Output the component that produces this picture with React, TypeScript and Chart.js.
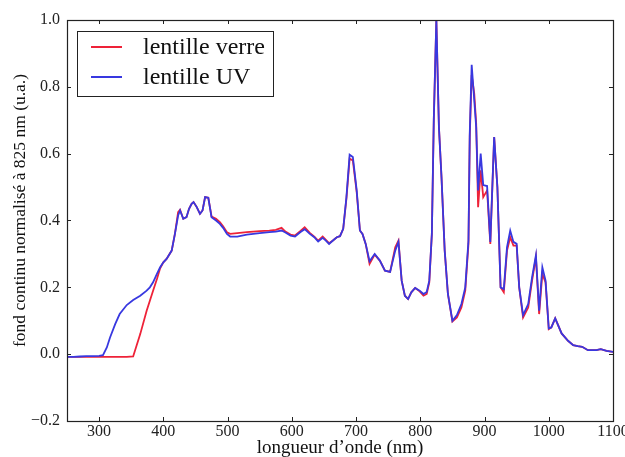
import React, { useEffect, useRef } from "react";
import { Chart, registerables } from "chart.js";

Chart.register(...registerables);

const wavelengths = [
  250, 260, 270, 280, 290, 300, 306, 312, 317, 325, 332, 343, 353, 364, 374, 379, 384, 390, 395, 400,
  405, 413, 418, 423, 426, 431, 436, 440, 444, 447, 452, 457, 461, 465, 470, 475, 482, 488, 493, 499,
  504, 515, 530, 550, 565, 575, 584, 590, 598, 605, 613, 620, 628, 635, 641, 648, 653, 658, 664, 670,
  675, 680, 685, 690, 695, 701, 706, 710, 715, 721, 729, 737, 745, 753, 761, 766, 771, 776, 781, 786,
  792, 799, 805, 810, 814, 818, 821, 825, 829, 833, 838, 843, 850, 857, 864, 870, 875, 877, 880, 884,
  887, 890, 894, 898, 904, 909, 915, 920, 925, 930, 935, 940, 945, 950, 954, 960, 968, 974, 980, 985,
  990, 995, 1000, 1004, 1010, 1020, 1030, 1038, 1045, 1052, 1061, 1068, 1074, 1081, 1090, 1100,
];

const lentilleUV = [
  -0.008, -0.008, -0.007, -0.006, -0.006, -0.005, -0.003, 0.02, 0.05, 0.09, 0.12, 0.147, 0.162, 0.175, 0.19, 0.2, 0.215, 0.24, 0.26, 0.275,
  0.285, 0.31, 0.36, 0.415, 0.43, 0.405, 0.41, 0.435, 0.45, 0.455, 0.44, 0.42, 0.43, 0.47, 0.468, 0.41, 0.4, 0.39, 0.378, 0.36,
  0.352, 0.352, 0.358, 0.362, 0.365, 0.367, 0.37, 0.364, 0.355, 0.352, 0.365, 0.374, 0.36, 0.35, 0.337, 0.348, 0.34, 0.33, 0.34, 0.35,
  0.353, 0.375, 0.47, 0.597, 0.59, 0.49, 0.37, 0.36, 0.33, 0.278, 0.3, 0.28, 0.25, 0.246, 0.31, 0.336, 0.22, 0.175, 0.165, 0.185,
  0.198, 0.19, 0.18, 0.186, 0.22, 0.36, 0.7, 1.0, 0.68, 0.53, 0.31, 0.18, 0.1, 0.117, 0.15, 0.2, 0.34, 0.66, 0.866, 0.76,
  0.68, 0.49, 0.6, 0.506, 0.503, 0.336, 0.65, 0.5, 0.2, 0.195, 0.32, 0.37, 0.336, 0.33, 0.2, 0.117, 0.15, 0.23, 0.296, 0.13,
  0.26, 0.22, 0.077, 0.08, 0.107, 0.062, 0.04, 0.027, 0.024, 0.022, 0.012, 0.012, 0.012, 0.015, 0.01, 0.007,
];

const lentilleVerre = [
  -0.008, -0.008, -0.008, -0.008, -0.008, -0.008, -0.008, -0.008, -0.008, -0.008, -0.008, -0.008, -0.007, 0.06, 0.13, 0.16, 0.19, 0.225, 0.257, 0.275,
  0.285, 0.31, 0.36, 0.425, 0.432, 0.405, 0.41, 0.435, 0.45, 0.455, 0.44, 0.42, 0.43, 0.47, 0.468, 0.412, 0.405, 0.395, 0.383, 0.365,
  0.36, 0.362, 0.365, 0.368, 0.37, 0.372, 0.378, 0.367, 0.358, 0.355, 0.368, 0.38, 0.363, 0.352, 0.34, 0.352, 0.342, 0.332, 0.34, 0.35,
  0.353, 0.375, 0.465, 0.585, 0.58, 0.485, 0.37, 0.36, 0.33, 0.27, 0.298, 0.28, 0.25, 0.246, 0.32, 0.34, 0.22, 0.175, 0.165, 0.185,
  0.198, 0.188, 0.175, 0.18, 0.215, 0.36, 0.7, 1.0, 0.68, 0.53, 0.31, 0.18, 0.098, 0.11, 0.14, 0.19, 0.33, 0.65, 0.835, 0.78,
  0.69, 0.44, 0.55, 0.47, 0.49, 0.33, 0.65, 0.5, 0.2, 0.185, 0.31, 0.35, 0.325, 0.325, 0.2, 0.11, 0.14, 0.22, 0.29, 0.12,
  0.24, 0.215, 0.075, 0.08, 0.107, 0.062, 0.04, 0.027, 0.024, 0.022, 0.012, 0.012, 0.012, 0.015, 0.01, 0.007,
];

const seriesLabels = ["lentille verre", "lentille UV"];
const xTicks = [300, 400, 500, 600, 700, 800, 900, 1000, 1100];
const yTicks = [-0.2, 0.0, 0.2, 0.4, 0.6, 0.8, 1.0];
const xTitle = "longueur d’onde (nm)";
const yTitle = "fond continu normalisé à 825 nm (u.a.)";

const RED = "#ee2238";
const BLUE = "#3838e0";
const SERIF = "'Liberation Serif', 'DejaVu Serif', serif";

const framePlugin = {
  id: "frameAndTicks",
  afterDraw(chart: any) {
    const { ctx, chartArea } = chart;
    const { left, right, top, bottom } = chartArea;
    const xs = chart.scales.x;
    const ys = chart.scales.y;
    ctx.save();
    ctx.strokeStyle = "#222";
    ctx.lineWidth = 1;
    const len = 4;
    ctx.beginPath();
    xTicks.forEach((v) => {
      const px = Math.round(xs.getPixelForValue(v)) + 0.5;
      if (px < left + 1 || px > right - 1) return;
      ctx.moveTo(px, bottom);
      ctx.lineTo(px, bottom - len);
      ctx.moveTo(px, top);
      ctx.lineTo(px, top + len);
    });
    yTicks.forEach((v) => {
      const py = Math.round(ys.getPixelForValue(v)) + 0.5;
      if (py < top + 1 || py > bottom - 1) return;
      ctx.moveTo(left, py);
      ctx.lineTo(left + len, py);
      ctx.moveTo(right, py);
      ctx.lineTo(right - len, py);
    });
    ctx.stroke();
    ctx.lineWidth = 1.2;
    ctx.strokeRect(Math.round(left) + 0.5, Math.round(top) + 0.5, Math.round(right - left), Math.round(bottom - top));

    // y-axis title (rotated)
    ctx.save();
    ctx.translate(20, (top + bottom) / 2 - 10);
    ctx.rotate(-Math.PI / 2);
    ctx.font = `17.5px ${SERIF}`;
    ctx.fillStyle = "#111";
    ctx.textAlign = "center";
    ctx.textBaseline = "middle";
    ctx.fillText(yTitle, 0, 0);
    ctx.restore();

    // legend
    const lx = left + 10;
    const ly = top + 11;
    const lw = 196;
    const lh = 65;
    ctx.fillStyle = "#fff";
    ctx.fillRect(lx, ly, lw, lh);
    ctx.strokeStyle = "#222";
    ctx.lineWidth = 1;
    ctx.strokeRect(Math.round(lx) + 0.5, Math.round(ly) + 0.5, lw, lh);
    ctx.font = `24px ${SERIF}`;
    ctx.textBaseline = "middle";
    ctx.textAlign = "left";
    chart.data.datasets.forEach((ds: any, i: number) => {
      const cy = ly + 16 + i * 30;
      ctx.strokeStyle = ds.borderColor;
      ctx.lineWidth = 2;
      ctx.beginPath();
      ctx.moveTo(lx + 14, cy);
      ctx.lineTo(lx + 45, cy);
      ctx.stroke();
      ctx.fillStyle = "#111";
      ctx.fillText(ds.label, lx + 66, cy + 1);
    });
    ctx.restore();
  },
};

export default function App() {
  const ref = useRef<HTMLCanvasElement | null>(null);
  useEffect(() => {
    document.body.style.margin = "0";
    const canvas = ref.current;
    if (!canvas) return;
    const chart = new Chart(canvas, {
      type: "line",
      data: {
        datasets: [
          {
            label: seriesLabels[0],
            data: wavelengths.map((x, i) => ({ x, y: lentilleVerre[i] })),
            borderColor: RED,
            borderWidth: 1.8,
            pointRadius: 0,
            fill: false,
            tension: 0,
            order: 1,
          },
          {
            label: seriesLabels[1],
            data: wavelengths.map((x, i) => ({ x, y: lentilleUV[i] })),
            borderColor: BLUE,
            borderWidth: 1.8,
            pointRadius: 0,
            fill: false,
            tension: 0,
            order: 0,
          },
        ],
      },
      options: {
        responsive: false,
        animation: false,
        devicePixelRatio: 1,
        layout: { padding: { top: 20, right: 12, left: 0, bottom: 0 } },
        plugins: { legend: { display: false }, tooltip: { enabled: false } },
        scales: {
          x: {
            type: "linear",
            min: 250,
            max: 1100,
            grid: { display: false, drawTicks: false },
            border: { display: false },
            afterBuildTicks: (s: any) => {
              s.ticks = xTicks.map((v) => ({ value: v }));
            },
            afterFit: (s: any) => {
              s.height = 36;
              s.paddingLeft = 0;
              s.paddingRight = 0;
            },
            ticks: {
              padding: 1,
              color: "#222",
              maxRotation: 0,
              autoSkip: false,
              font: { family: SERIF, size: 16 },
              callback: (v: any) => String(v),
            },
            title: {
              display: true,
              text: xTitle,
              color: "#111",
              font: { family: SERIF, size: 19, lineHeight: 1.0 },
              padding: { top: 0, bottom: -1 },
            },
          },
          y: {
            type: "linear",
            min: -0.2,
            max: 1.0,
            grid: { display: false, drawTicks: false },
            border: { display: false },
            afterBuildTicks: (s: any) => {
              s.ticks = yTicks.map((v) => ({ value: v }));
            },
            afterFit: (s: any) => {
              s.width = 67;
              s.paddingTop = 0;
              s.paddingBottom = 0;
            },
            ticks: {
              padding: 7,
              color: "#222",
              font: { family: SERIF, size: 16 },
              callback: (v: any) => {
                const n = Number(v);
                const s = Math.abs(n).toFixed(1);
                return n < -1e-9 ? "−" + s : s;
              },
            },
          },
        },
      },
      plugins: [framePlugin],
    } as any);
    return () => chart.destroy();
  }, []);
  return <canvas ref={ref} width={625} height={457} style={{ display: "block" }} />;
}
